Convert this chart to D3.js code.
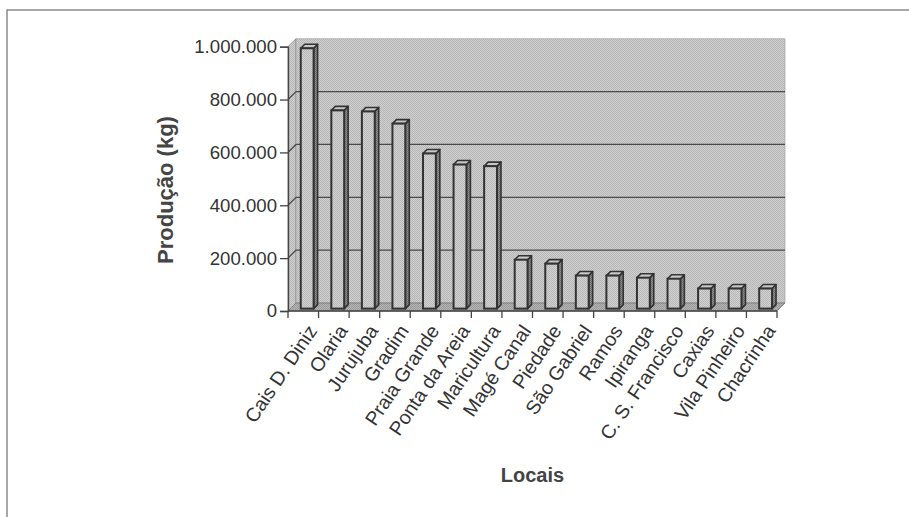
<!DOCTYPE html>
<html><head><meta charset="utf-8">
<script src="https://cdn.jsdelivr.net/npm/d3@7/dist/d3.min.js"></script>
<style>
html,body{margin:0;padding:0;background:#fff;}
svg{display:block;font-family:"Liberation Sans",Arial,sans-serif;}
</style></head>
<body>
<svg id="chart" width="909" height="517"></svg>
<script>
const categories = ["Cais D. Diniz","Olaria","Jurujuba","Gradim","Praia Grande","Ponta da Areia","Maricultura","Magé Canal","Piedade","São Gabriel","Ramos","Ipiranga","C. S. Francisco","Caxias","Vila Pinheiro","Chacrinha"];
const values = [985000,750000,746000,700000,587000,545000,539000,185000,170000,125000,125000,117000,113000,76000,76000,76000];
const yTicks = [0,200000,400000,600000,800000,1000000];
const yTickLabels = ["0","200.000","400.000","600.000","800.000","1.000.000"];
const yTitle = "Produção (kg)";
const xTitle = "Locais";

const svg = d3.select("#chart");
const DX = 8, DY = -8;           // depth of the 3D box
const F0 = 0.3, F1 = 0.8;        // bar depth range (fraction)

const x = d3.scaleBand().domain(categories).range([288,777]).padding(0);
const y = d3.scaleLinear().domain([0,1000000]).range([311,46.7]);

const defs = svg.append("defs");
function dither(id, c1, c2){
  const p = defs.append("pattern").attr("id",id).attr("patternUnits","userSpaceOnUse").attr("width",2).attr("height",2);
  p.append("rect").attr("width",2).attr("height",2).attr("fill",c1);
  p.append("rect").attr("width",1).attr("height",1).attr("fill",c2);
  p.append("rect").attr("x",1).attr("y",1).attr("width",1).attr("height",1).attr("fill",c2);
}
dither("wall","#d0d0d0","#b6b6b6");
dither("floor","#b4b4b4","#9a9a9a");
dither("front","#d2d2d2","#b8b8b8");
dither("side","#8e8e8e","#6c6c6c");

svg.append("path").attr("d","M7,517 V10 H909").attr("fill","none").attr("stroke","#8a8a8a").attr("stroke-width",1.5);

const x0 = x.range()[0], x1 = x.range()[1];
const yb = y(0), yt = y(1000000);
const pts = a => a.map(p=>p.join(",")).join(" ");

svg.append("polygon").attr("points",pts([[x0,yb],[x0,yt],[x0+DX,yt+DY],[x0+DX,yb+DY]]))
  .attr("fill","url(#wall)").attr("stroke","#777").attr("stroke-width",0.8);
svg.append("polygon").attr("points",pts([[x0+DX,yb+DY],[x0+DX,yt+DY],[x1+DX,yt+DY],[x1+DX,yb+DY]]))
  .attr("fill","url(#wall)").attr("stroke","#999").attr("stroke-width",0.6);
svg.append("polygon").attr("points",pts([[x0,yb],[x1,yb],[x1+DX,yb+DY],[x0+DX,yb+DY]]))
  .attr("fill","url(#floor)").attr("stroke","#777").attr("stroke-width",0.8);

svg.append("g").selectAll("polyline").data(yTicks.filter(t=>t>0 && t<1000000)).join("polyline")
  .attr("points",d=>pts([[x0,y(d)],[x0+DX,y(d)+DY],[x1+DX,y(d)+DY]]))
  .attr("fill","none").attr("stroke","#4a4a4a").attr("stroke-width",1.3);

const bw = x.bandwidth()*0.42;
const bars = svg.append("g").selectAll("g").data(categories).join("g");
const fx = d => x(d) + x.bandwidth()/2 - bw/2 + 1.5 + F0*DX;
const fdx = (F1-F0)*DX, fdy = (F1-F0)*DY;
bars.each(function(d,i){
  const g = d3.select(this);
  const L = fx(d), R = L + bw;
  const top = y(values[i]) + F0*DY, bot = y(0) + F0*DY;
  g.append("polygon").attr("points",pts([[R,bot],[R,top],[R+fdx,top+fdy],[R+fdx,bot+fdy]]))
    .attr("fill","url(#side)").attr("stroke","#333").attr("stroke-width",1.6).attr("stroke-linejoin","round");
  g.append("polygon").attr("points",pts([[L,top],[R,top],[R+fdx,top+fdy],[L+fdx,top+fdy]]))
    .attr("fill","#c8c8c8").attr("stroke","#333").attr("stroke-width",1.6).attr("stroke-linejoin","round");
  g.append("rect").attr("x",L).attr("y",top).attr("width",bw).attr("height",bot-top)
    .attr("fill","url(#front)").attr("stroke","#333").attr("stroke-width",2);
});

const yAxis = svg.append("g").attr("transform",`translate(${x0},0)`)
  .call(d3.axisLeft(y).tickValues(yTicks).tickFormat((d,i)=>yTickLabels[i]).tickSize(8).tickPadding(3));
yAxis.select(".domain").attr("stroke","#444").attr("stroke-width",1.3);
yAxis.selectAll(".tick line").attr("stroke","#444").attr("stroke-width",1.3);
yAxis.selectAll(".tick text").attr("font-size","18.6px").attr("fill","#333").attr("font-family","Liberation Sans, Arial, sans-serif");

svg.append("line").attr("x1",x0).attr("x2",x1).attr("y1",yb).attr("y2",yb).attr("stroke","#444").attr("stroke-width",1.3);
svg.append("g").selectAll("line").data(d3.range(categories.length+1)).join("line")
  .attr("x1",i=>x0+i*x.step()).attr("x2",i=>x0+i*x.step())
  .attr("y1",yb).attr("y2",yb+7).attr("stroke","#444").attr("stroke-width",1.3);

svg.append("g").selectAll("text").data(categories).join("text")
  .attr("transform",d=>`translate(${x(d)+x.bandwidth()/2+3},${yb+12}) rotate(-56)`)
  .attr("text-anchor","end").attr("dy","0.72em")
  .attr("font-size","19.5px").attr("fill","#333").text(d=>d);

svg.append("text").attr("transform","translate(173,190) rotate(-90)").attr("text-anchor","middle")
  .attr("font-size","22px").attr("font-weight","bold").attr("fill","#444").text(yTitle);
svg.append("text").attr("x",532.5).attr("y",482).attr("text-anchor","middle")
  .attr("font-size","20px").attr("font-weight","bold").attr("fill","#444").text(xTitle);
</script>
</body></html>
